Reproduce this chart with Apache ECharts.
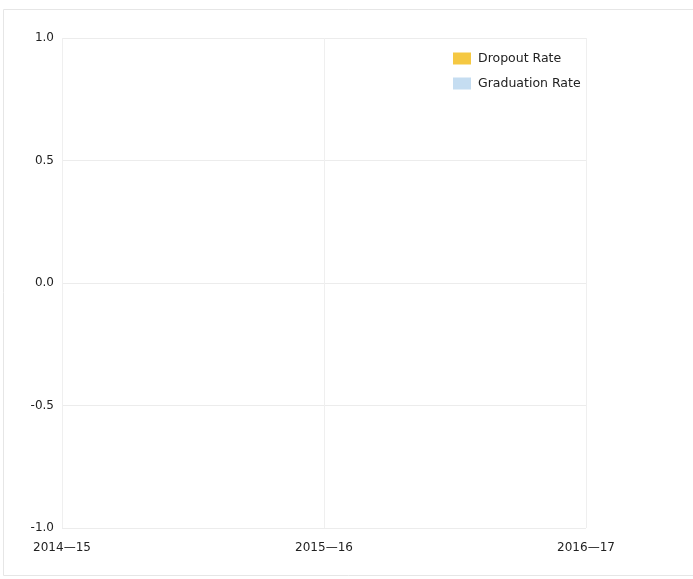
<!DOCTYPE html>
<html>
<head>
<meta charset="utf-8">
<script src="https://cdn.jsdelivr.net/npm/echarts@6/dist/echarts.min.js"></script>
<style>
  html, body { margin: 0; padding: 0; background: #fff; }
  #chart { width: 693px; height: 579px; }
</style>
</head>
<body>
<div id="chart"></div>
<script>
// School years on the x axis
const years = ['2014\u201415', '2015\u201416', '2016\u201417'];
// Rates per year (no values reported)
const dropoutRate = [null, null, null];
const graduationRate = [null, null, null];
// Value axis ticks
const yTicks = [-1.0, -0.5, 0.0, 0.5, 1.0];

const FONT = 'DejaVu Sans';
const chart = echarts.init(document.getElementById('chart'));

chart.setOption({
  animation: false,
  backgroundColor: '#fff',
  textStyle: { fontFamily: FONT },
  graphic: [{
    type: 'rect',
    shape: { x: 3.5, y: 9.5, width: 700, height: 566 },
    style: { fill: 'none', stroke: '#e6e6e6', lineWidth: 1 },
    silent: true
  }],
  legend: {
    top: 47,
    left: 448,
    orient: 'vertical',
    itemWidth: 18,
    itemHeight: 12,
    itemGap: 12,
    icon: 'rect',
    textStyle: { fontFamily: FONT, fontSize: 12.5, color: '#222', padding: [0, 0, 0, 2] },
    data: ['Dropout Rate', 'Graduation Rate']
  },
  grid: { left: 62, right: 107, top: 38, bottom: 51, containLabel: false },
  xAxis: {
    type: 'category',
    boundaryGap: false,
    data: years,
    axisLine: { show: false },
    axisTick: { show: false },
    axisLabel: { color: '#222', fontFamily: FONT, fontSize: 12, margin: 14 },
    splitLine: { show: true, lineStyle: { color: '#efefef', width: 1 } }
  },
  yAxis: {
    type: 'value',
    min: yTicks[0],
    max: yTicks[yTicks.length - 1],
    interval: 0.5,
    axisLine: { show: false },
    axisTick: { show: false },
    axisLabel: {
      color: '#222', fontFamily: FONT, fontSize: 12, margin: 8,
      formatter: v => v.toFixed(1)
    },
    splitLine: { show: true, lineStyle: { color: '#ececec', width: 1 } }
  },
  series: [
    {
      name: 'Dropout Rate',
      type: 'line',
      data: dropoutRate,
      itemStyle: { color: '#f5c842' },
      areaStyle: { color: '#f5c842' },
      showSymbol: false
    },
    {
      name: 'Graduation Rate',
      type: 'line',
      data: graduationRate,
      itemStyle: { color: '#c5ddf1' },
      areaStyle: { color: '#c5ddf1' },
      showSymbol: false
    }
  ]
});
</script>
</body>
</html>
